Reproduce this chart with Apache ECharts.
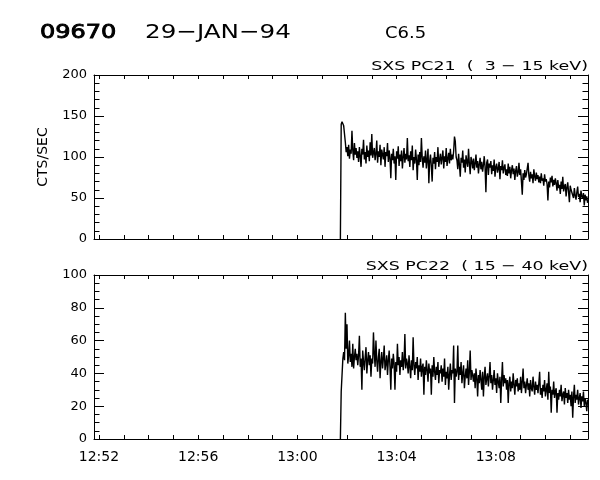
<!DOCTYPE html>
<html>
<head>
<meta charset="utf-8">
<script src="https://cdn.jsdelivr.net/npm/echarts@6/dist/echarts.min.js"></script>
<style>
html,body{margin:0;padding:0;background:#fff;}
#c{width:600px;height:480px;}
</style>
</head>
<body>
<div id="c"></div>
<script>
// ---- data (seconds after 12:52:00, 2-s samples starting at 13:01:44) ----
const startSec = 584;
const stepSec = 2;
const pc21 = [0,
 140,143,141,138,136,118,106,112,101,115,98,109,104,132,108,96,117,103,111,99,
 107,94,112,101,88,110,103,121,97,106,92,114,100,108,95,118,102,128,99,105,
 111,96,104,120,93,107,100,115,90,109,103,97,112,88,106,101,117,94,108,99,
 74,104,96,110,92,101,72,107,98,113,89,103,95,108,86,100,111,93,104,97,
 123,95,102,88,107,96,114,84,100,92,109,97,72,103,90,106,94,123,99,87,
 101,93,108,86,97,110,68,95,103,89,70,99,92,106,85,100,94,112,88,97,
 104,91,99,108,86,101,94,111,89,98,105,92,110,96,103,97,107,125,119,100,
 96,85,104,90,76,99,93,108,87,97,81,102,94,88,110,92,79,100,95,86,
 98,84,92,103,87,95,80,91,99,85,94,82,90,101,88,57,93,97,78,92,
 87,95,79,90,83,97,76,88,92,81,86,94,73,89,84,96,80,87,91,78,
 85,77,92,80,88,74,84,90,79,86,72,83,89,76,81,93,78,85,70,54,
 80,72,84,75,79,86,93,77,70,82,74,79,68,85,76,71,81,73,78,69,
 76,68,80,71,74,65,79,70,73,67,47,70,63,75,69,77,64,72,66,74,
 68,59,72,62,66,55,70,61,76,58,64,67,52,63,69,57,45,65,60,62,
 58,50,62,53,48,57,64,51,55,45,59,52,49,56,41,54,47,52,44
];
const pc22 = [0,
 29,28,49,53,48,77,55,70,46,51,60,47,52,44,58,43,50,55,48,52,
 45,51,63,44,49,30,54,47,42,50,56,40,48,53,45,51,38,49,46,65,
 52,44,60,48,41,50,55,37,47,53,43,49,57,42,46,51,39,48,54,44,
 30,49,43,52,46,30,47,41,58,45,50,39,48,44,53,42,47,64,43,49,
 46,40,51,44,37,48,42,62,45,39,47,43,50,36,45,41,49,38,44,46,
 27,44,39,48,42,35,46,40,43,27,45,38,50,41,36,44,39,47,34,42,
 40,45,35,43,38,49,33,41,37,44,30,39,46,36,42,40,57,22,43,38,
 41,57,36,44,39,47,34,40,45,31,38,43,37,48,33,41,54,36,42,39,
 35,40,31,43,37,26,39,34,42,36,30,41,26,38,44,33,37,40,32,38,
 47,34,39,30,36,42,33,37,28,40,35,31,38,22,36,47,32,39,34,37,
 30,36,22,34,38,29,35,31,40,33,27,36,32,37,29,34,30,38,28,35,
 43,31,35,28,33,37,30,34,26,36,31,29,38,32,27,35,30,33,28,34,
 41,27,31,25,33,29,36,26,30,34,24,41,28,32,16,30,27,35,25,29,
 31,16,28,24,30,26,33,23,27,29,21,31,25,28,22,30,24,27,20,29,
 13,26,33,22,27,24,30,21,25,28,19,26,23,29,20,25,22,17,24
];
const xTickSeconds = [0,60,120,180,240,300,360,420,480,540,600,660,720,780,840,900,960,1020,1080,1140];
const xLabelSeconds = [0,240,480,720,960];
const xLabels = ['12:52','12:56','13:00','13:04','13:08'];
const xMin = -12, xMax = 1183;

const toPairs = arr => arr.map((v,i)=>[startSec + i*stepSec, v]);

const FONT = 'DejaVu Sans';
const black = '#000';

function xAxisDef(gridIndex, position, showLabels){
  return {
    type:'value', gridIndex, position, min:xMin, max:xMax,
    axisLine:{show:true,onZero:false,lineStyle:{color:black,width:1}},
    axisTick:{show:true,inside:true,length:4,lineStyle:{color:black},customValues:xTickSeconds},
    axisLabel:{show:showLabels,customValues:xLabelSeconds,margin:11,color:black,fontFamily:FONT,fontSize:14,
      formatter:v=>{const k=xLabelSeconds.indexOf(v);return k>=0?xLabels[k]:'';}},
    splitLine:{show:false}
  };
}
function yAxisDef(gridIndex, position, max, interval, minorSplit, showLabels){
  return {
    type:'value', gridIndex, position, min:0, max, interval,
    axisLine:{show:true,onZero:false,lineStyle:{color:black,width:1}},
    axisTick:{show:true,inside:true,length:10,lineStyle:{color:black}},
    minorTick:{show:true,splitNumber:minorSplit,length:5.5,lineStyle:{color:black}},
    axisLabel:{show:showLabels,margin:7,color:black,fontFamily:FONT,fontSize:13},
    splitLine:{show:false},minorSplitLine:{show:false}
  };
}

const chart = echarts.init(document.getElementById('c'), null, {renderer:'canvas'});
chart.setOption({
  animation:false,
  backgroundColor:'#fff',
  grid:[
    {left:94, top:75, width:494, height:164},
    {left:94, top:275, width:494, height:164}
  ],
  xAxis:[
    xAxisDef(0,'bottom',false),
    xAxisDef(0,'top',false),
    xAxisDef(1,'bottom',true),
    xAxisDef(1,'top',false)
  ],
  yAxis:[
    yAxisDef(0,'left',200,50,5,true),
    yAxisDef(0,'right',200,50,5,false),
    yAxisDef(1,'left',100,20,4,true),
    yAxisDef(1,'right',100,20,4,false)
  ],
  series:[
    {type:'line',xAxisIndex:0,yAxisIndex:0,data:toPairs(pc21),showSymbol:false,symbol:'none',
     lineStyle:{color:black,width:1.4},clip:true},
    {type:'line',xAxisIndex:2,yAxisIndex:2,data:toPairs(pc22),showSymbol:false,symbol:'none',
     lineStyle:{color:black,width:1.4},clip:true}
  ],
  graphic:[
    {type:'text',x:40,y:33,scaleX:1.2,style:{text:'09670',font:'20px "DejaVu Sans"',fill:black,stroke:black,lineWidth:0.9,textAlign:'left',textVerticalAlign:'middle',align:'left',verticalAlign:'middle'}},
    {type:'text',x:145,y:33,scaleX:1.23,style:{text:'29\u2212JAN\u221294',font:'20px "DejaVu Sans"',fill:black,textAlign:'left',textVerticalAlign:'middle',align:'left',verticalAlign:'middle'}},
    {type:'text',x:385,y:34,scaleX:1.2,style:{text:'C6.5',font:'15px "DejaVu Sans"',fill:black,textAlign:'left',textVerticalAlign:'middle',align:'left',verticalAlign:'middle'}},
    {type:'text',x:588,y:67,scaleX:1.34,style:{text:'SXS PC21  (  3 \u2212 15 keV)',font:'13px "DejaVu Sans"',fill:black,textAlign:'right',textVerticalAlign:'middle',align:'right',verticalAlign:'middle'}},
    {type:'text',x:588,y:267,scaleX:1.34,style:{text:'SXS PC22  ( 15 \u2212 40 keV)',font:'13px "DejaVu Sans"',fill:black,textAlign:'right',textVerticalAlign:'middle',align:'right',verticalAlign:'middle'}},
    {type:'text',x:43,y:157,rotation:Math.PI/2,style:{text:'CTS/SEC',font:'14px "DejaVu Sans"',fill:black,textAlign:'center',textVerticalAlign:'middle',align:'center',verticalAlign:'middle'}}
  ]
});
</script>
</body>
</html>
